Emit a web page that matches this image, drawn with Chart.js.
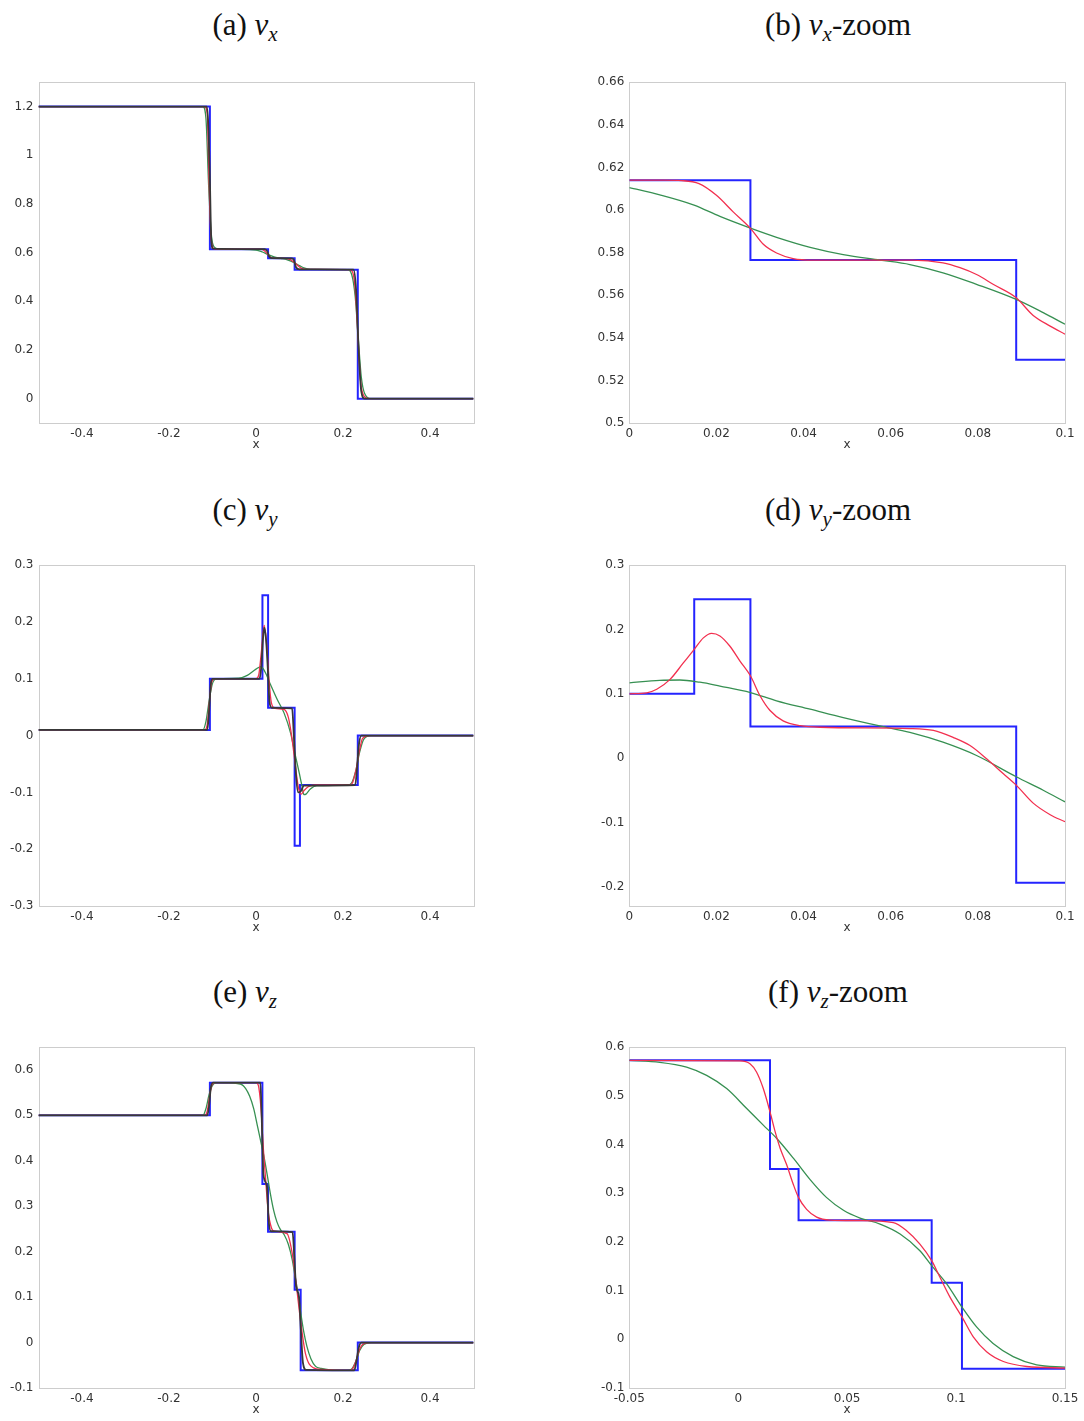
<!DOCTYPE html>
<html>
<head>
<meta charset="UTF-8">
<title>v_x, v_y, v_z profiles</title>
<script src="https://cdn.jsdelivr.net/npm/chart.js"></script>
<style>
  html, body { margin: 0; padding: 0; background: #fff; overflow: hidden; }
  #page { position: relative; width: 1084px; height: 1421px; }
  .panel { position: absolute; }
  .ttl {
    position: absolute; width: 400px; text-align: center;
    font-family: "Liberation Serif", serif; font-size: 31px; color: #111;
    line-height: 34px;
  }
  .ttl sub { font-size: 21px; font-style: italic; vertical-align: -6px; line-height: 0; }
</style>
</head>
<body>
<div id="page">
  <div class="ttl" style="left:45px; top:8px">(a) <i>v</i><sub>x</sub></div>
  <div class="ttl" style="left:638px; top:8px">(b) <i>v</i><sub>x</sub>-zoom</div>
  <div class="ttl" style="left:45px; top:493px">(c) <i>v</i><sub>y</sub></div>
  <div class="ttl" style="left:638px; top:493px">(d) <i>v</i><sub>y</sub>-zoom</div>
  <div class="ttl" style="left:45px; top:975px">(e) <i>v</i><sub>z</sub></div>
  <div class="ttl" style="left:638px; top:975px">(f) <i>v</i><sub>z</sub>-zoom</div>

  <div class="panel" style="left:0px; top:70px; width:480px; height:383px"><canvas id="cA"></canvas></div>
  <div class="panel" style="left:560px; top:70px; width:524px; height:383px"><canvas id="cB"></canvas></div>
  <div class="panel" style="left:0px; top:553px; width:480px; height:383px"><canvas id="cC"></canvas></div>
  <div class="panel" style="left:560px; top:553px; width:524px; height:383px"><canvas id="cD"></canvas></div>
  <div class="panel" style="left:0px; top:1035px; width:480px; height:383px"><canvas id="cE"></canvas></div>
  <div class="panel" style="left:560px; top:1035px; width:524px; height:383px"><canvas id="cF"></canvas></div>
</div>
<script>
// ---- tick labels ----
const fullXTicks = [-0.4, -0.2, 0, 0.2, 0.4];
const zoomXTicks = [0, 0.02, 0.04, 0.06, 0.08, 0.1];
const vzZoomXTicks = [-0.05, 0, 0.05, 0.1, 0.15];
const vxYTicks = [0, 0.2, 0.4, 0.6, 0.8, 1, 1.2];
const vxZoomYTicks = [0.5, 0.52, 0.54, 0.56, 0.58, 0.6, 0.62, 0.64, 0.66];
const vyYTicks = [-0.3, -0.2, -0.1, 0, 0.1, 0.2, 0.3];
const vyZoomYTicks = [-0.2, -0.1, 0, 0.1, 0.2, 0.3];
const vzYTicks = [-0.1, 0, 0.1, 0.2, 0.3, 0.4, 0.5, 0.6];
const vzZoomYTicks = [-0.1, 0, 0.1, 0.2, 0.3, 0.4, 0.5, 0.6];

// ---- (a) v_x ----
const vxExact = [[-0.5,1.2],[-0.106,1.2],[-0.106,0.614],[0.0278,0.614],[0.0278,0.5765],[0.0888,0.5765],[0.0888,0.53],[0.234,0.53],[0.234,0],[0.5,0]];
const vxRed = [[-0.5,1.2],[-0.118,1.2],[-0.112,1.17],[-0.108,0.9],[-0.104,0.68],[-0.1,0.625],[-0.095,0.615],[0,0.614],[0.012,0.614],[0.02,0.607],[0.0278,0.591],[0.034,0.58],[0.042,0.5765],[0.065,0.5765],[0.076,0.573],[0.084,0.565],[0.0888,0.559],[0.097,0.545],[0.105,0.535],[0.115,0.531],[0.215,0.53],[0.222,0.52],[0.228,0.45],[0.234,0.27],[0.24,0.08],[0.247,0.015],[0.26,0],[0.5,0]];
const vxGreen = [[-0.5,1.2],[-0.122,1.2],[-0.115,1.15],[-0.109,0.88],[-0.103,0.68],[-0.097,0.625],[-0.085,0.615],[-0.04,0.613],[0,0.6105],[0.0147,0.6024],[0.0278,0.5915],[0.0415,0.5825],[0.0575,0.5765],[0.072,0.5705],[0.0888,0.558],[0.1,0.5464],[0.11,0.537],[0.125,0.531],[0.21,0.53],[0.22,0.51],[0.228,0.42],[0.235,0.25],[0.242,0.09],[0.25,0.02],[0.265,0],[0.5,0]];
const vxBlack = [[-0.5,1.2],[-0.113,1.2],[-0.109,1.1],[-0.106,0.9],[-0.103,0.66],[-0.099,0.616],[0.02,0.614],[0.026,0.605],[0.03,0.585],[0.036,0.577],[0.082,0.5765],[0.087,0.57],[0.092,0.54],[0.1,0.531],[0.224,0.53],[0.23,0.45],[0.236,0.2],[0.242,0.03],[0.25,0],[0.5,0]];

// ---- (b) v_x zoom ----
const vxZoomExact = [[0,0.614],[0.0278,0.614],[0.0278,0.5765],[0.0888,0.5765],[0.0888,0.5297],[0.1,0.5297]];
const vxZoomRed = [[0,0.614],[0.008,0.614],[0.012,0.6138],[0.016,0.6124],[0.02,0.6069],[0.0239,0.599],[0.0278,0.5914],[0.0307,0.584],[0.0338,0.5798],[0.0376,0.5772],[0.0422,0.5765],[0.065,0.5765],[0.072,0.5752],[0.0759,0.5729],[0.0797,0.5697],[0.0836,0.565],[0.0888,0.5588],[0.0927,0.5505],[0.0966,0.5455],[0.1,0.5417]];
const vxZoomGreen = [[0,0.6105],[0.007,0.6071],[0.0147,0.6024],[0.0208,0.597],[0.0278,0.5915],[0.0338,0.5872],[0.0415,0.5825],[0.0491,0.5791],[0.0575,0.5765],[0.0644,0.5744],[0.072,0.5705],[0.0797,0.5651],[0.0888,0.558],[0.095,0.5518],[0.1,0.5464]];

// ---- (c) v_y ----
const vyExact = [[-0.5,0.01],[-0.106,0.01],[-0.106,0.1],[0.0148,0.1],[0.0148,0.247],[0.0278,0.247],[0.0278,0.049],[0.0888,0.049],[0.0888,-0.194],[0.101,-0.194],[0.101,-0.087],[0.234,-0.087],[0.234,0],[0.5,0]];
const vyRed = [[-0.5,0.01],[-0.118,0.01],[-0.112,0.02],[-0.107,0.06],[-0.102,0.094],[-0.095,0.1],[0,0.1],[0.0063,0.107],[0.0124,0.148],[0.0189,0.194],[0.0254,0.151],[0.03,0.097],[0.0353,0.058],[0.0438,0.048],[0.0644,0.046],[0.0744,0.032],[0.082,-0.001],[0.0888,-0.042],[0.0966,-0.088],[0.1,-0.099],[0.104,-0.103],[0.11,-0.097],[0.12,-0.09],[0.135,-0.087],[0.215,-0.087],[0.222,-0.083],[0.23,-0.06],[0.237,-0.03],[0.245,-0.005],[0.26,0],[0.5,0]];
const vyGreen = [[-0.5,0.01],[-0.122,0.01],[-0.115,0.025],[-0.108,0.06],[-0.1,0.092],[-0.09,0.1],[-0.04,0.101],[-0.02,0.106],[0,0.117],[0.0116,0.1215],[0.0208,0.112],[0.0338,0.089],[0.0491,0.063],[0.0644,0.04],[0.0797,0.004],[0.0888,-0.029],[0.1,-0.068],[0.106,-0.09],[0.11,-0.104],[0.115,-0.103],[0.125,-0.094],[0.14,-0.088],[0.21,-0.087],[0.22,-0.083],[0.23,-0.06],[0.238,-0.03],[0.248,-0.006],[0.265,0],[0.5,0]];
const vyBlack = [[-0.5,0.01],[-0.112,0.01],[-0.108,0.04],[-0.104,0.09],[-0.1,0.1],[0.008,0.1],[0.012,0.12],[0.016,0.17],[0.019,0.19],[0.023,0.17],[0.027,0.12],[0.031,0.06],[0.036,0.049],[0.083,0.048],[0.087,0.0],[0.092,-0.07],[0.097,-0.1],[0.103,-0.098],[0.11,-0.088],[0.228,-0.087],[0.232,-0.06],[0.236,-0.02],[0.242,0],[0.5,0]];

// ---- (d) v_y zoom ----
const vyZoomExact = [[0,0.1],[0.0149,0.1],[0.0149,0.247],[0.0278,0.247],[0.0278,0.049],[0.0888,0.049],[0.0888,-0.194],[0.1,-0.194]];
const vyZoomRed = [[0,0.1],[0.004,0.1015],[0.0063,0.107],[0.0093,0.122],[0.0124,0.148],[0.0149,0.169],[0.017,0.187],[0.0189,0.194],[0.0208,0.19],[0.0231,0.174],[0.0254,0.151],[0.0278,0.128],[0.03,0.097],[0.0323,0.074],[0.0353,0.058],[0.0392,0.0505],[0.0438,0.048],[0.0644,0.046],[0.0698,0.043],[0.0744,0.032],[0.0782,0.0195],[0.082,-0.001],[0.0858,-0.024],[0.0888,-0.042],[0.0927,-0.07],[0.0966,-0.088],[0.1,-0.099]];
const vyZoomGreen = [[0,0.117],[0.007,0.121],[0.0116,0.1215],[0.0162,0.118],[0.0208,0.112],[0.0278,0.102],[0.0338,0.089],[0.0415,0.076],[0.0491,0.063],[0.0575,0.05],[0.0644,0.04],[0.072,0.0247],[0.0797,0.004],[0.0888,-0.029],[0.095,-0.05],[0.1,-0.068]];

// ---- (e) v_z ----
const vzExact = [[-0.5,0.5],[-0.106,0.5],[-0.106,0.572],[0.0147,0.572],[0.0147,0.349],[0.0277,0.349],[0.0277,0.244],[0.0888,0.244],[0.0888,0.116],[0.1027,0.116],[0.1027,-0.061],[0.234,-0.061],[0.234,0],[0.5,0]];
const vzRed = [[-0.5,0.5],[-0.118,0.5],[-0.112,0.51],[-0.107,0.54],[-0.102,0.565],[-0.095,0.572],[0,0.572],[0.0054,0.566],[0.0115,0.515],[0.0169,0.427],[0.0222,0.359],[0.0277,0.291],[0.036,0.251],[0.0421,0.245],[0.0712,0.2397],[0.0834,0.1955],[0.0926,0.1275],[0.1027,0.046],[0.114,-0.0256],[0.1324,-0.0558],[0.15,-0.059],[0.215,-0.061],[0.222,-0.058],[0.23,-0.04],[0.237,-0.018],[0.245,-0.004],[0.26,0],[0.5,0]];
const vzGreen = [[-0.5,0.5],[-0.122,0.5],[-0.115,0.515],[-0.108,0.545],[-0.1,0.566],[-0.09,0.572],[-0.036,0.569],[-0.0237,0.559],[-0.0145,0.542],[-0.0053,0.515],[0.0039,0.474],[0.0115,0.44],[0.0176,0.413],[0.0253,0.372],[0.033,0.328],[0.0406,0.291],[0.0483,0.265],[0.0559,0.249],[0.0651,0.2367],[0.0743,0.2163],[0.0834,0.182],[0.0888,0.1513],[0.0957,0.114],[0.1027,0.0663],[0.1094,0.0255],[0.117,-0.0085],[0.1262,-0.0354],[0.137,-0.0524],[0.15,-0.057],[0.17,-0.06],[0.21,-0.061],[0.22,-0.058],[0.23,-0.04],[0.238,-0.018],[0.248,-0.004],[0.265,0],[0.5,0]];
const vzBlack = [[-0.5,0.5],[-0.112,0.5],[-0.108,0.52],[-0.104,0.56],[-0.099,0.572],[0.01,0.572],[0.013,0.5],[0.017,0.37],[0.025,0.345],[0.029,0.27],[0.034,0.245],[0.084,0.243],[0.088,0.19],[0.092,0.125],[0.099,0.1],[0.103,0.03],[0.108,-0.045],[0.115,-0.06],[0.226,-0.061],[0.231,-0.04],[0.236,-0.012],[0.242,0],[0.5,0]];

// ---- (f) v_z zoom ----
const vzZoomExact = [[-0.05,0.573],[0.0146,0.573],[0.0146,0.35],[0.0277,0.35],[0.0277,0.2445],[0.0888,0.2445],[0.0888,0.116],[0.1027,0.116],[0.1027,-0.0606],[0.15,-0.0606]];
const vzZoomRed = [[-0.05,0.573],[0.0008,0.572],[0.0054,0.566],[0.0084,0.549],[0.0115,0.515],[0.0146,0.467],[0.0169,0.427],[0.0192,0.393],[0.0222,0.359],[0.0253,0.318],[0.0277,0.291],[0.0314,0.267],[0.036,0.251],[0.0421,0.245],[0.0559,0.244],[0.0712,0.2397],[0.0773,0.223],[0.0834,0.1955],[0.0888,0.1615],[0.0926,0.1275],[0.0972,0.0866],[0.1027,0.046],[0.1079,0.005],[0.114,-0.0256],[0.1217,-0.0456],[0.1324,-0.0558],[0.15,-0.059]];
const vzZoomGreen = [[-0.05,0.573],[-0.036,0.569],[-0.0237,0.559],[-0.0145,0.542],[-0.0053,0.515],[0.0039,0.474],[0.0115,0.44],[0.0176,0.413],[0.0253,0.372],[0.033,0.328],[0.0406,0.291],[0.0483,0.265],[0.0559,0.249],[0.0651,0.2367],[0.0743,0.2163],[0.0834,0.182],[0.0888,0.1513],[0.0957,0.114],[0.1027,0.0663],[0.1094,0.0255],[0.117,-0.0085],[0.1262,-0.0354],[0.137,-0.0524],[0.15,-0.057]];

const BLUE = '#2424ff', RED = '#f2304f', GREEN = '#379052', BLACK = '#383838';
const tickFont = { family: 'DejaVu Sans', size: 12 };

// light grey box around the plotting area
const framePlugin = {
  id: 'frame',
  beforeDatasetsDraw(chart) {
    const { ctx, chartArea: a } = chart;
    ctx.save();
    ctx.strokeStyle = '#cdcdcd';
    ctx.lineWidth = 1;
    ctx.strokeRect(Math.round(a.left) + 0.5, Math.round(a.top) + 0.5, Math.round(a.width), Math.round(a.height));
    ctx.restore();
  }
};

function pts(arr) { return arr.map(p => ({ x: p[0], y: p[1] })); }
function fmt(v) { return String(Math.round(v * 1000) / 1000); }

function series(data, color, width, order, smooth) {
  return {
    data: pts(data), borderColor: color, borderWidth: width, order: order,
    pointRadius: 0, fill: false,
    cubicInterpolationMode: smooth ? 'monotone' : 'default', tension: 0
  };
}

function makePanel(id, o) {
  const sets = [series(o.exact, BLUE, 2, 3, false)];
  sets.push(series(o.green, GREEN, 1.3, 2, true));
  sets.push(series(o.red, RED, 1.3, 1, true));
  if (o.black) sets.push(series(o.black, BLACK, 1.8, 0, true));

  new Chart(document.getElementById(id), {
    type: 'line',
    data: { datasets: sets },
    options: {
      responsive: true,
      maintainAspectRatio: false,
      animation: false,
      layout: { padding: { left: 0, top: 10, right: o.rp, bottom: 0 } },
      plugins: { legend: { display: false }, tooltip: { enabled: false } },
      scales: {
        x: {
          type: 'linear', min: o.xmin, max: o.xmax,
          afterBuildTicks: s => { s.ticks = o.xt.map(v => ({ value: v })); },
          afterFit: s => { s.height = 30; },
          grid: { display: false, drawTicks: false },
          border: { display: false },
          ticks: { autoSkip: false, maxRotation: 0, padding: 4, font: tickFont, color: '#333', callback: fmt },
          title: { display: true, text: 'x', font: tickFont, color: '#333', padding: { top: 0, bottom: 1 } }
        },
        y: {
          type: 'linear', min: o.ymin, max: o.ymax,
          afterBuildTicks: s => { s.ticks = o.yt.map(v => ({ value: v })); },
          afterFit: s => { s.width = o.yw; },
          grid: { display: false, drawTicks: false },
          border: { display: false },
          ticks: { autoSkip: false, padding: 5, font: tickFont, color: '#333', callback: fmt }
        }
      }
    },
    plugins: [framePlugin]
  });
}

makePanel('cA', { exact: vxExact, red: vxRed, green: vxGreen, black: vxBlack,
  xmin: -0.5, xmax: 0.5, xt: fullXTicks, ymin: -0.1, ymax: 1.3, yt: vxYTicks, yw: 38.5, rp: 6.5 });
makePanel('cB', { exact: vxZoomExact, red: vxZoomRed, green: vxZoomGreen,
  xmin: 0, xmax: 0.1, xt: zoomXTicks, ymin: 0.5, ymax: 0.66, yt: vxZoomYTicks, yw: 69.3, rp: 19 });
makePanel('cC', { exact: vyExact, red: vyRed, green: vyGreen, black: vyBlack,
  xmin: -0.5, xmax: 0.5, xt: fullXTicks, ymin: -0.3, ymax: 0.3, yt: vyYTicks, yw: 38.5, rp: 6.5 });
makePanel('cD', { exact: vyZoomExact, red: vyZoomRed, green: vyZoomGreen,
  xmin: 0, xmax: 0.1, xt: zoomXTicks, ymin: -0.23, ymax: 0.3, yt: vyZoomYTicks, yw: 69.3, rp: 19 });
makePanel('cE', { exact: vzExact, red: vzRed, green: vzGreen, black: vzBlack,
  xmin: -0.5, xmax: 0.5, xt: fullXTicks, ymin: -0.1, ymax: 0.65, yt: vzYTicks, yw: 38.5, rp: 6.5 });
makePanel('cF', { exact: vzZoomExact, red: vzZoomRed, green: vzZoomGreen,
  xmin: -0.05, xmax: 0.15, xt: vzZoomXTicks, ymin: -0.1, ymax: 0.6, yt: vzZoomYTicks, yw: 69.3, rp: 19 });
</script>
</body>
</html>
